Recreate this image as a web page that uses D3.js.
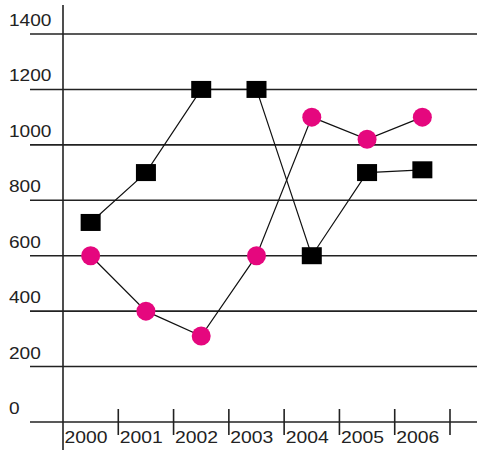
<!DOCTYPE html>
<html>
<head>
<meta charset="utf-8">
<script src="https://cdn.jsdelivr.net/npm/d3@7"></script>
<style>
  body { margin: 0; background: #fff; }
  text { font-family: "Liberation Sans", Arial, sans-serif; fill: #222; }
</style>
</head>
<body>
<div id="chart"></div>
<script>
// Chart data
var years = ["2000", "2001", "2002", "2003", "2004", "2005", "2006"];
var squareValues = [720, 900, 1200, 1200, 600, 900, 910];
var circleValues = [600, 400, 310, 600, 1100, 1020, 1100];
var yTicks = [0, 200, 400, 600, 800, 1000, 1200, 1400];

var width = 477,
    height = 455;
var plot = {left: 63, right: 450, top: 34, bottom: 422};

var svg = d3.select("#chart").append("svg")
    .attr("width", width)
    .attr("height", height);

var x = d3.scaleBand()
    .domain(years)
    .range([plot.left, plot.right])
    .padding(0);

var y = d3.scaleLinear()
    .domain([0, 1400])
    .range([plot.bottom, plot.top]);

// horizontal grid lines + labels above them
yTicks.forEach(function(t) {
  svg.append("line")
    .attr("x1", 30).attr("x2", width)
    .attr("y1", y(t)).attr("y2", y(t))
    .attr("stroke", "#222")
    .attr("stroke-width", 1.6);
  svg.append("text")
    .attr("x", 9)
    .attr("y", y(t) - 8)
    .attr("font-size", 17)
    .attr("textLength", String(t).length * 10.6)
    .attr("lengthAdjust", "spacingAndGlyphs")
    .text(t);
});

// vertical axis line
svg.append("line")
  .attr("x1", plot.left).attr("x2", plot.left)
  .attr("y1", 5).attr("y2", 450)
  .attr("stroke", "#222")
  .attr("stroke-width", 1.6);

// tick marks at band edges, year labels right of each tick
years.forEach(function(yr, i) {
  var edge = x(yr) + x.bandwidth();
  svg.append("line")
    .attr("x1", edge).attr("x2", edge)
    .attr("y1", 409).attr("y2", 435)
    .attr("stroke", "#222")
    .attr("stroke-width", 1.6);
  svg.append("text")
    .attr("x", x(yr) + 1.5)
    .attr("y", 443)
    .attr("font-size", 17)
    .attr("textLength", 43)
    .attr("lengthAdjust", "spacingAndGlyphs")
    .text(yr);
});

var cx = function(d, i) { return x(years[i]) + x.bandwidth() / 2; };

var line = d3.line()
    .x(cx)
    .y(function(d) { return y(d); });

// connecting lines
svg.append("path")
  .datum(squareValues)
  .attr("d", line)
  .attr("fill", "none")
  .attr("stroke", "#111")
  .attr("stroke-width", 1.2);

svg.append("path")
  .datum(circleValues)
  .attr("d", line)
  .attr("fill", "none")
  .attr("stroke", "#111")
  .attr("stroke-width", 1.2);

// markers
svg.selectAll(".sq")
    .data(squareValues)
    .enter()
  .append("rect")
    .attr("class", "sq")
    .attr("x", function(d, i) { return cx(d, i) - 10; })
    .attr("y", function(d) { return y(d) - 8.5; })
    .attr("width", 20)
    .attr("height", 17)
    .attr("fill", "#000");

svg.selectAll(".dot")
    .data(circleValues)
    .enter()
  .append("circle")
    .attr("class", "dot")
    .attr("cx", cx)
    .attr("cy", function(d) { return y(d); })
    .attr("r", 9.5)
    .attr("fill", "#e5077e");
</script>
</body>
</html>
